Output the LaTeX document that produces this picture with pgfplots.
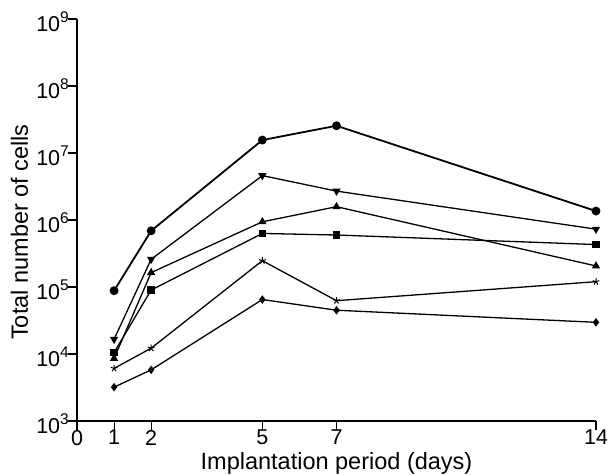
\documentclass[border=0pt]{standalone}
\usepackage{pgfplots}
\pgfplotsset{compat=1.18}
\usepackage{fontspec}
\setmainfont{Liberation Sans}
\usetikzlibrary{plotmarks}
\newcommand\ex[1]{10\raisebox{0.42em}{\fontsize{15.5}{18}\selectfont #1}}
\begin{document}
\begin{tikzpicture}
\path[use as bounding box] (-77pt,-53pt) rectangle (530pt,421pt);
\begin{axis}[
  scale only axis,
  width=519pt, height=402pt,
  xmin=0, xmax=14,
  ymode=log, ymin=1e3, ymax=1e9,
  axis lines*=left,
  axis line style={line width=1.2pt},
  tick align=outside,
  major tick length=9pt,
  tick style={line width=1.1pt, black},
  xtick={0,1,2,5,7,14},
  ytick={1e3,1e4,1e5,1e6,1e7,1e8,1e9},
  yticklabels={\ex{3},\ex{4},\ex{5},\ex{6},\ex{7},\ex{8},\ex{9}},
  yminorticks=false,
  /pgf/number format/assume math mode=true,
  ticklabel style={font=\fontsize{21.5}{25}\selectfont},
  xticklabel style={yshift=1pt, inner sep=1pt},
  yticklabel style={xshift=2pt, inner sep=1pt, yshift=-3pt},
  label style={font=\fontsize{23.5}{28}\selectfont},
  xlabel={Implantation period (days)},
  ylabel={Total number of cells},
  xlabel style={at={(axis description cs:0.5,0)}, anchor=base, yshift=-48pt, inner sep=0pt},
  ylabel style={at={(axis description cs:0,0.47)}, anchor=base, yshift=49pt, inner sep=0pt},
  clip=false,
  every axis plot/.append style={black, line width=1.3pt},
]
\addplot[line width=1.8pt, mark=*, mark size=3.5pt] coordinates {(1,8.8e4) (2,6.9e5) (5,1.56e7) (7,2.55e7) (14,1.36e6)};
\addplot[mark=triangle*, mark size=3.5pt, mark options={rotate=180}] coordinates {(1,1.66e4) (2,2.59e5) (5,4.6e6) (7,2.7e6) (14,7.3e5)};
\addplot[mark=triangle*, mark size=3.5pt] coordinates {(1,8.6e3) (2,1.64e5) (5,9.4e5) (7,1.58e6) (14,2.06e5)};
\addplot[mark=square*, mark size=3.2pt] coordinates {(1,1.05e4) (2,9.0e4) (5,6.3e5) (7,5.97e5) (14,4.3e5)};
\addplot[mark=star, mark size=3.5pt, mark options={line width=1pt}] coordinates {(1,6.1e3) (2,1.22e4) (5,2.47e5) (7,6.25e4) (14,1.2e5)};
\addplot[mark=diamond*, mark size=3.2pt] coordinates {(1,3.2e3) (2,5.8e3) (5,6.5e4) (7,4.5e4) (14,2.97e4)};
\end{axis}
\end{tikzpicture}
\end{document}
